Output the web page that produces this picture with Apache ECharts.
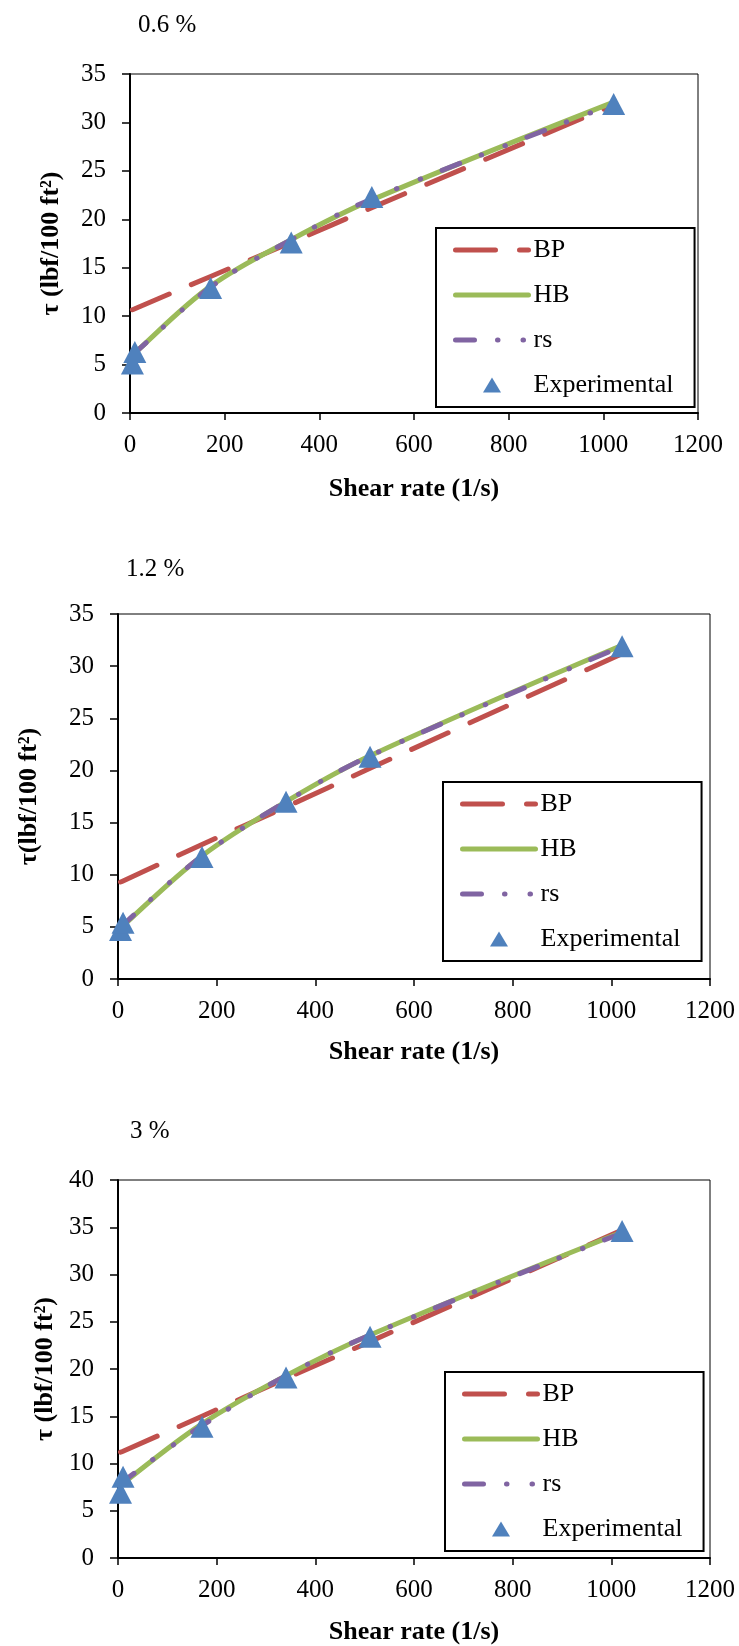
<!DOCTYPE html>
<html>
<head>
<meta charset="utf-8">
<script src="https://cdn.jsdelivr.net/npm/echarts@6/dist/echarts.min.js"></script>
<style>
html,body{margin:0;padding:0;background:#fff;}
#c{width:739px;height:1646px;}
</style>
</head>
<body>
<div id="c"></div>
<script>
// ---- data ----
const shearRate = [5.11, 10.22, 170.3, 340.6, 510.9, 1021.8];
const panelTitles = ['0.6 %', '1.2 %', '3 %'];
const yTitles = ['τ (lbf/100 ft²)', 'τ(lbf/100 ft²)', 'τ (lbf/100 ft²)'];
const yMax = [35, 35, 40];
const xTitle = 'Shear rate (1/s)';
const seriesNames = ['BP', 'HB', 'rs', 'Experimental'];

const bp06  = [10.66, 10.76, 14.1, 17.6, 21.2, 31.8];
const hb06  = [5.8, 6.2, 13.1, 17.9, 22.0, 32.1];
const rs06  = [5.9, 6.2, 13.0, 17.9, 22.1, 31.9];
const exp06 = [5.1, 6.3, 12.9, 17.6, 22.3, 31.9];

const bp12  = [9.3, 9.4, 12.9, 16.5, 20.2, 31.2];
const hb12  = [4.7, 5.1, 11.8, 17.0, 21.4, 32.0];
const rs12  = [4.8, 5.2, 11.8, 17.0, 21.4, 31.9];
const exp12 = [4.7, 5.4, 11.7, 17.0, 21.3, 31.9];

const bp3   = [11.2, 11.3, 15.0, 19.0, 22.9, 34.7];
const hb3   = [7.5, 7.9, 14.2, 19.3, 23.6, 34.5];
const rs3   = [7.6, 8.1, 14.0, 19.3, 23.6, 34.4];
const exp3  = [6.9, 8.6, 13.9, 19.1, 23.4, 34.6];

const panels = [
  {bp: bp06, hb: hb06, rs: rs06, exp: exp06},
  {bp: bp12, hb: hb12, rs: rs12, exp: exp12},
  {bp: bp3,  hb: hb3,  rs: rs3,  exp: exp3}
];

// ---- layout / style ----
const FONT = '"Liberation Serif", "Times New Roman", serif';
const grids = [
  {left: 130, top: 74,   width: 568, height: 339},
  {left: 118, top: 614,  width: 592, height: 365},
  {left: 118, top: 1180, width: 592, height: 381}
];
const titlePos = [{left: 138, top: 13}, {left: 126, top: 557}, {left: 130, top: 1119}];
const legendPos = [{left: 436, top: 228}, {left: 443, top: 782}, {left: 445, top: 1372}];
const yNameGap = [66, 76, 58];
const xNameGap = [63, 60, 61];

const colors = {BP: '#C0504D', HB: '#9BBB59', rs: '#8064A2', Experimental: '#4F81BD'};
const dashes = {BP: [40, 24], HB: null, rs: [19, 23, 0.5, 25, 0.5, 23]};
const LW = 5;

function pairs(ys) { return shearRate.map((x, i) => [x, ys[i]]); }

const hiddenSym = {color: 'rgba(0,0,0,0)', borderWidth: 0, opacity: 0};
const legendData = [
  {name: 'BP', itemStyle: hiddenSym},
  {name: 'HB', itemStyle: hiddenSym},
  {name: 'rs', itemStyle: hiddenSym},
  {name: 'Experimental', icon: 'path://M0,15L9,0L18,15Z'}
];

const option = {
  animation: false,
  backgroundColor: '#fff',
  textStyle: {fontFamily: FONT, color: '#000'},
  title: panelTitles.map((t, i) => ({
    text: t, left: titlePos[i].left, top: titlePos[i].top, padding: 0,
    textStyle: {fontFamily: FONT, fontSize: 25, fontWeight: 'normal', color: '#000'}
  })),
  grid: grids.map(g => Object.assign({show: true, borderColor: '#000', borderWidth: 1, backgroundColor: 'transparent'}, g)),
  legend: legendPos.map((p, i) => ({
    orient: 'vertical', left: p.left, top: p.top,
    padding: [9, 21, 9, 17],
    itemWidth: 73, itemHeight: 15, itemGap: 19,
    symbolKeepAspect: true,
    borderColor: '#000', borderWidth: 2, backgroundColor: '#fff',
    data: legendData,
    lineStyle: {width: LW},
    textStyle: {fontFamily: FONT, fontSize: 26, color: '#000'},
    selectedMode: false
  })),
  xAxis: grids.map((g, i) => ({
    gridIndex: i, type: 'value', min: 0, max: 1200, interval: 200,
    name: xTitle, nameLocation: 'middle', nameGap: xNameGap[i],
    nameTextStyle: {fontFamily: FONT, fontSize: 26, fontWeight: 'bold', color: '#000'},
    axisLine: {show: true, onZero: false, lineStyle: {color: '#000', width: 2}},
    axisTick: {show: true, inside: false, length: 7, lineStyle: {color: '#000', width: 1.5}},
    axisLabel: {fontFamily: FONT, fontSize: 25, color: '#000', margin: 20, formatter: v => String(v)},
    splitLine: {show: false}
  })),
  yAxis: grids.map((g, i) => ({
    gridIndex: i, type: 'value', min: 0, max: yMax[i], interval: 5,
    name: yTitles[i], nameLocation: 'middle', nameGap: yNameGap[i], nameRotate: 90,
    nameTextStyle: {fontFamily: FONT, fontSize: 26, fontWeight: 'bold', color: '#000'},
    axisLine: {show: true, onZero: false, lineStyle: {color: '#000', width: 2}},
    axisTick: {show: true, inside: false, length: 8, lineStyle: {color: '#000', width: 1.5}},
    axisLabel: {fontFamily: FONT, fontSize: 25, color: '#000', margin: 24, formatter: v => String(v)},
    splitLine: {show: false}
  })),
  series: []
};

panels.forEach((p, i) => {
  [['BP', p.bp], ['HB', p.hb], ['rs', p.rs]].forEach(([name, ys]) => {
    option.series.push({
      name: name, type: 'line', xAxisIndex: i, yAxisIndex: i,
      data: pairs(ys), smooth: 0.35, symbol: 'none', showSymbol: false,
      lineStyle: {color: colors[name], width: LW, type: dashes[name] || 'solid', cap: 'round', join: 'round'},
      itemStyle: {color: colors[name]},
      z: 2
    });
  });
  option.series.push({
    name: 'Experimental', type: 'scatter', xAxisIndex: i, yAxisIndex: i,
    data: pairs(p.exp), symbol: 'triangle', symbolSize: [23, 22],
    itemStyle: {color: colors.Experimental, opacity: 1},
    z: 5
  });
});

const chart = echarts.init(document.getElementById('c'), null, {renderer: 'canvas'});
chart.setOption(option);
</script>
</body>
</html>
